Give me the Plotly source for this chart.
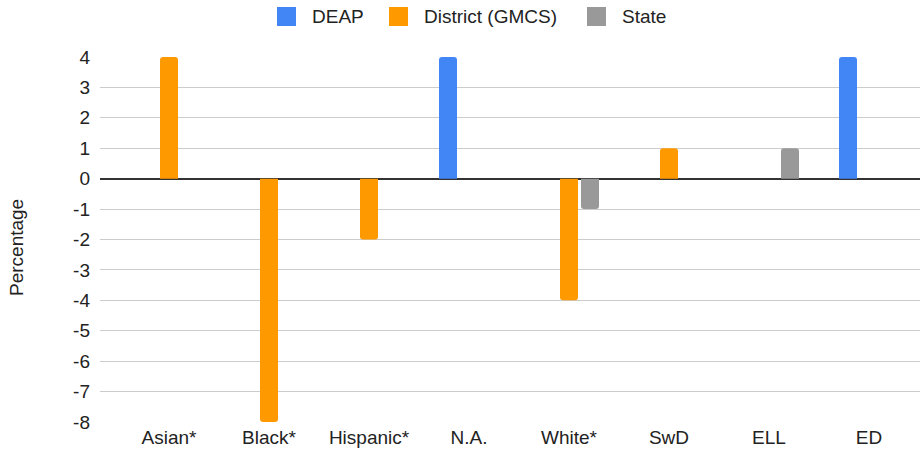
import plotly.graph_objects as go

categories = ["Asian*", "Black*", "Hispanic*", "N.A.", "White*", "SwD", "ELL", "ED"]
deap = [None, None, None, 4, None, None, None, 4]
district = [4, -8, -2, None, -4, 1, None, None]
state = [None, None, None, None, -1, None, 1, None]
series_names = ["DEAP", "District (GMCS)", "State"]
series_colors = ["#4285F4", "#FF9900", "#999999"]
y_ticks = [4, 3, 2, 1, 0, -1, -2, -3, -4, -5, -6, -7, -8]
y_tick_labels = ["4", "3", "2", "1", "0", "-1", "-2", "-3", "-4", "-5", "-6", "-7", "-8"]

W, H = 922, 454
ML, MR, MT, MB = 100, 2, 57, 32
PW, PH = W - ML - MR, H - MT - MB

def px(x):
    return (x - ML) / PW

def py(y):
    return (H - MB - y) / PH

FONT = "Liberation Sans, Arial, sans-serif"
TXT = "#222222"
FS = 19

fig = go.Figure()
for name, vals, col in zip(series_names, [deap, district, state], series_colors):
    fig.add_trace(go.Bar(x=categories, y=vals, name=name,
                         marker=dict(color=col, line=dict(width=0), cornerradius=3),
                         showlegend=False))

fig.update_layout(
    width=W, height=H,
    margin=dict(l=ML, r=MR, t=MT, b=MB, pad=0),
    paper_bgcolor="white", plot_bgcolor="white",
    barmode="group", bargap=0.37, bargroupgap=0.143,
    font=dict(family=FONT, size=FS, color=TXT),
    xaxis=dict(range=[-0.69, 7.51], showgrid=False, showline=False, zeroline=False,
               ticks="", tickfont=dict(size=FS, color=TXT), ticklabelstandoff=2),
    yaxis=dict(range=[-8, 4], tickvals=y_ticks, ticktext=y_tick_labels,
               showgrid=True, gridcolor="#cccccc", gridwidth=1,
               zeroline=True, zerolinecolor="#333333", zerolinewidth=1.5, showline=False,
               ticks="", tickfont=dict(size=FS, color=TXT), ticklabelstandoff=9),
)

fig.add_annotation(text="Percentage", xref="paper", yref="paper", x=px(17), y=py(248),
                   xanchor="center", yanchor="middle", textangle=-90, showarrow=False,
                   font=dict(size=FS, color=TXT, family=FONT))

# legend drawn at top
sq_x = [277, 389, 587]
for name, col, sx in zip(series_names, series_colors, sq_x):
    fig.add_shape(type="rect", xref="paper", yref="paper",
                  x0=px(sx), x1=px(sx + 19), y0=py(26), y1=py(7),
                  fillcolor=col, line=dict(width=0), layer="above")
    fig.add_annotation(text=name, xref="paper", yref="paper", x=px(sx + 33), y=py(16.5),
                       xanchor="left", yanchor="middle", showarrow=False,
                       font=dict(size=FS, color=TXT, family=FONT))

fig.write_html("out.html", config={"displayModeBar": False},
               post_script="document.body.style.margin='0';document.body.style.overflow='hidden';")
